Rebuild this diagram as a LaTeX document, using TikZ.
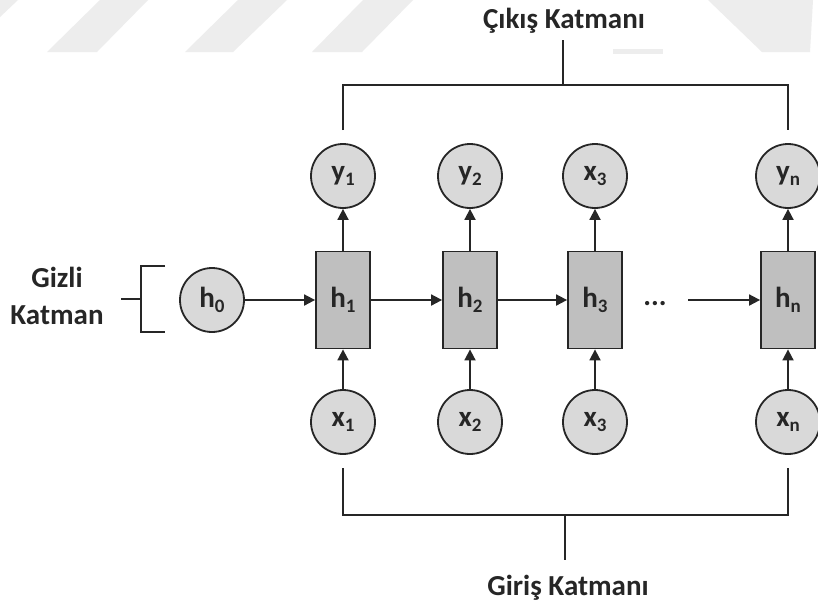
\documentclass[tikz,border=0pt]{standalone}
\usepackage{fontspec}
\setmainfont{Carlito}
\usetikzlibrary{arrows.meta}
\newcommand{\sbs}[1]{\raisebox{-0.17em}{\fontsize{19}{19}\selectfont #1}}
\begin{document}
\begin{tikzpicture}[x=1pt,y=-1pt,
  every node/.style={font=\fontsize{29}{33}\selectfont\bfseries, text=black!85},
  unit/.style={circle,draw=black!85,line width=1.8pt,fill=black!15,minimum size=64pt,inner sep=0pt},
  cell/.style={rectangle,draw=black!85,line width=1.8pt,fill=black!25,minimum width=54pt,minimum height=97pt,inner sep=0pt},
  conn/.style={line width=1.8pt,draw=black!85},
  arr/.style={conn,-{Triangle[length=11pt,width=11pt]}},
  wm/.style={fill=black!7},
  lbl/.style={anchor=base}
]
\useasboundingbox[fill=white] (0,0) rectangle (818,606);
% faint watermark
\fill[wm] (0,0) -- (18,0) -- (0,17) -- cycle;
\fill[wm] (47,52) -- (97,52) -- (148,0) -- (100,0) -- cycle;
\fill[wm] (185,52) -- (233,52) -- (287,0) -- (238,0) -- cycle;
\fill[wm] (312,52) -- (362,52) -- (413,0) -- (363,0) -- cycle;
\fill[wm] (613,49) rectangle (663,54);
\fill[wm] (708,0) -- (813,0) -- (810,52) -- (762,52) -- cycle;

% hidden layer
\node[unit] (h0) at (212,300) {h\sbs{0}};
\node[cell] (h1) at (343,300) {h\sbs{1}};
\node[cell] (h2) at (470,300) {h\sbs{2}};
\node[cell] (h3) at (595,300) {h\sbs{3}};
\node[cell] (hn) at (788,300) {h\sbs{n}};
\node (dots) at (655,304) {...};
\coordinate (dd) at (688,300);

% outputs
\node[unit] (y1) at (343,176) {y\sbs{1}};
\node[unit] (y2) at (470,176) {y\sbs{2}};
\node[unit] (y3) at (595,176) {x\sbs{3}};
\node[unit] (yn) at (788,176) {y\sbs{n}};

% inputs
\node[unit] (x1) at (343,422) {x\sbs{1}};
\node[unit] (x2) at (470,422) {x\sbs{2}};
\node[unit] (x3) at (595,422) {x\sbs{3}};
\node[unit] (xn) at (788,422) {x\sbs{n}};

% arrows
\draw[arr] (h0) -- (h1);
\draw[arr] (h1) -- (h2);
\draw[arr] (h2) -- (h3);
\draw[arr] (dd) -- (hn);
\foreach \c in {1,2,3,n}{
  \draw[arr] (h\c) -- (y\c);
  \draw[arr] (x\c) -- (h\c);
}

% labels
\node[lbl] (cik) at (564,28) {Çıkış Katmanı};
\node[lbl] (gir) at (568,595) {Giriş Katmanı};
\node[lbl] (giz) at (57,287) {Gizli};
\node[lbl] (kat) at (57,324) {Katman};

% top bracket
\coordinate (t1) at (343,130);
\coordinate (t2) at (788,130);
\coordinate (tm) at (563,85);
\coordinate (ts) at (563,40);
\draw[conn] (t1) -- (343,85) -- (788,85) -- (t2);
\draw[conn] (tm) -- (ts);

% bottom bracket
\coordinate (b1) at (343,468);
\coordinate (b2) at (788,468);
\coordinate (bm) at (565,515);
\coordinate (bs) at (565,560);
\draw[conn] (b1) -- (343,515) -- (788,515) -- (b2);
\draw[conn] (bm) -- (bs);

% left bracket
\coordinate (l1) at (165,266);
\coordinate (l2) at (165,332);
\coordinate (lm) at (141,299);
\coordinate (ls) at (121,299);
\draw[conn] (l1) -- (141,266) -- (141,332) -- (l2);
\draw[conn] (lm) -- (ls);
\end{tikzpicture}
\end{document}
